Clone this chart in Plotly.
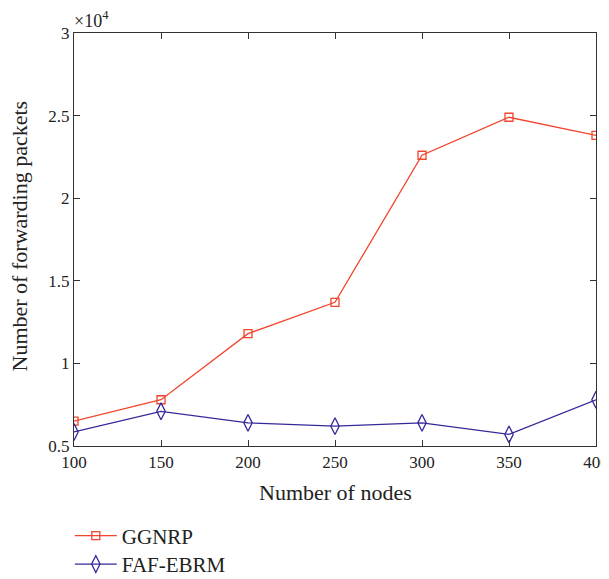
import plotly.graph_objects as go

nodes = [100, 150, 200, 250, 300, 350, 400]
ggnrp = [6500, 7800, 11800, 13700, 22600, 24900, 23800]
faf_ebrm = [5850, 7100, 6400, 6200, 6400, 5700, 7800]
y_tickvals = [5000, 10000, 15000, 20000, 25000, 30000]
y_ticktext = ["0.5", "1", "1.5", "2", "2.5", "3"]
x_ticks = [100, 150, 200, 250, 300, 350, 400]

FONT = "Liberation Serif"
AX = "#333333"
TXT = "#222222"

# page body has an 8px margin, so the figure is drawn 8px right/down
W, H = 601, 571
L, T, R, B = 66, 25, 13, 133

fig = go.Figure()
fig.add_trace(go.Scatter(
    x=nodes, y=ggnrp, name="GGNRP", mode="lines+markers", legend="legend",
    line=dict(color="#f2452d", width=1.3),
    marker=dict(symbol="square-open", size=8, color="#f2452d", line=dict(width=1.3)),
))
fig.add_trace(go.Scatter(
    x=nodes, y=faf_ebrm, name="FAF-EBRM", mode="lines+markers", legend="legend2",
    line=dict(color="#33299a", width=1.3),
    marker=dict(symbol="diamond-tall-open", size=12, color="#33299a", line=dict(width=1.3)),
))

leg_common = dict(xanchor="left", yanchor="top",
                  font=dict(family=FONT, size=21, color=TXT),
                  bgcolor="rgba(0,0,0,0)", itemwidth=42)

fig.update_layout(
    width=W, height=H,
    margin=dict(l=L, r=R, t=T, b=B, autoexpand=False),
    plot_bgcolor="white", paper_bgcolor="white",
    font=dict(family=FONT, size=17, color=TXT),
    showlegend=True,
    legend=dict(x=-0.008, y=-0.168, **leg_common),
    legend2=dict(x=-0.008, y=-0.237, **leg_common),
    xaxis=dict(
        range=[100, 400], tickvals=x_ticks, ticks="inside", ticklen=6,
        tickcolor=AX, showline=True, linecolor=AX, linewidth=1.2, mirror="ticks",
        showgrid=False, zeroline=False, automargin=False, ticklabeloverflow="allow",
        tickfont=dict(family=FONT, size=17, color=TXT),
    ),
    yaxis=dict(
        range=[5000, 30000], tickvals=y_tickvals, ticktext=y_ticktext,
        ticks="inside", ticklen=6,
        tickcolor=AX, showline=True, linecolor=AX, linewidth=1.2, mirror="ticks",
        showgrid=False, zeroline=False, automargin=False, ticklabeloverflow="allow",
        tickfont=dict(family=FONT, size=17, color=TXT),
    ),
    annotations=[
        dict(text="×10<sup>4</sup>", xref="paper", yref="paper", x=0, y=1,
             xanchor="left", yanchor="bottom", showarrow=False,
             font=dict(family=FONT, size=18, color=TXT), yshift=0, xshift=-2),
        dict(text="Number of nodes", xref="paper", yref="paper", x=0.5, y=0,
             xanchor="center", yanchor="middle", showarrow=False,
             font=dict(family=FONT, size=22, color=TXT), yshift=-46),
        dict(text="Number of forwarding packets", xref="paper", yref="paper", x=0, y=0.5,
             xanchor="center", yanchor="middle", showarrow=False, textangle=-90,
             font=dict(family=FONT, size=22, color=TXT), xshift=-55, yshift=3),
    ],
)

fig.write_html("out.html")
